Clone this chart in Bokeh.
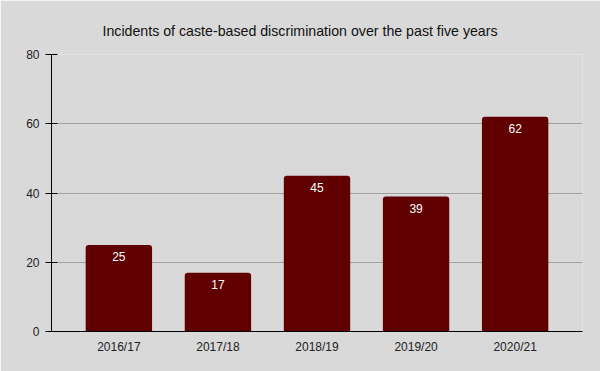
from bokeh.plotting import figure
from bokeh.models import ColumnDataSource, FixedTicker, Range1d, FactorRange
from bokeh.core.properties import value
from bokeh.embed import file_html
from bokeh.resources import INLINE

years = ["2016/17", "2017/18", "2018/19", "2019/20", "2020/21"]
incidents = [25, 17, 45, 39, 62]
y_ticks = [0, 20, 40, 60, 80]

FONT = "Liberation Sans"
BG = "#d9d9d9"
BAR = "#600000"

src = ColumnDataSource(dict(x=years, y=incidents, lbl=[str(v) for v in incidents]))

p = figure(x_range=FactorRange(*years, range_padding=0.18, range_padding_units="absolute"),
           y_range=Range1d(0, 80),
           frame_width=531, frame_height=277,
           output_backend="svg", toolbar_location=None,
           background_fill_color=BG, border_fill_color=BG,
           min_border_left=51, min_border_right=18, min_border_top=54, min_border_bottom=40)
p.outline_line_color = None

p.title.text = "Incidents of caste-based discrimination over the past five years"
p.title.align = "left"
p.title.offset = 51
p.title.standoff = 32
p.title.text_font = FONT
p.title.text_font_size = "14.2px"
p.title.text_font_style = "normal"
p.title.text_color = "#111111"

p.vbar(x="x", top="y", width=0.67, source=src, fill_color=BAR, line_color=None,
       border_radius=[3, 3, 0, 0])
p.text(x="x", y="y", text="lbl", source=src, text_color="white",
       text_font=value(FONT), text_font_size="12px", text_align="center",
       text_baseline="middle", y_offset=12)

p.yaxis.ticker = FixedTicker(ticks=y_ticks)
p.yaxis.major_tick_out = 6
p.yaxis.major_tick_in = 6
p.yaxis.minor_tick_line_color = None
p.yaxis.axis_line_color = "black"
p.yaxis.major_label_text_font = FONT
p.yaxis.major_label_text_font_size = "12px"
p.yaxis.major_label_text_color = "#222222"
p.yaxis.major_label_standoff = 6

p.xaxis.major_tick_line_color = None
p.xaxis.major_tick_out = 0
p.xaxis.major_tick_in = 0
p.xaxis.minor_tick_line_color = None
p.xaxis.axis_line_color = "black"
p.xaxis.major_label_text_font = FONT
p.xaxis.major_label_text_font_size = "12px"
p.xaxis.major_label_text_color = "#222222"
p.xaxis.major_label_standoff = 8

p.xgrid.grid_line_color = None
p.ygrid.grid_line_color = "#a0a0a0"
p.ygrid.grid_line_width = 1

open("out.html", "w").write(file_html(p, INLINE))
